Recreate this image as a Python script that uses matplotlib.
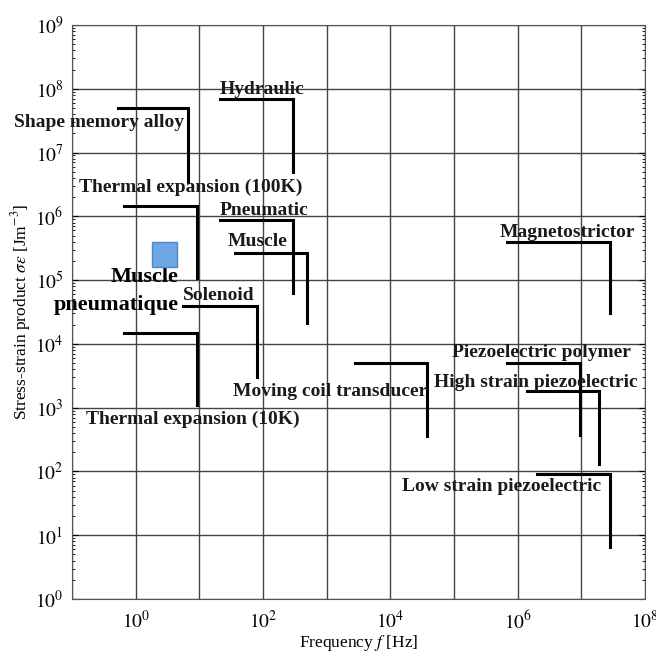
import numpy as np
import matplotlib
matplotlib.use("Agg")
import matplotlib.pyplot as plt

plt.rcParams['font.family'] = ['Liberation Serif', 'DejaVu Serif']
plt.rcParams['mathtext.fontset'] = 'stix'

# actuator name, f_min, f_max, sigma*eps max, sigma*eps min
names = ["Shape memory alloy", "Hydraulic", "Thermal expansion (100K)", "Pneumatic",
         "Muscle", "Solenoid", "Thermal expansion (10K)", "Moving coil transducer",
         "Piezoelectric polymer", "High strain piezoelectric", "Low strain piezoelectric",
         "Magnetostrictor"]
f_min = [0.52, 21, 0.65, 21, 36, 5.6, 0.65, 2.8e3, 6.7e5, 1.4e6, 2.0e6, 6.7e5]
f_max = [6.7, 295, 9.3, 295, 490, 81, 9.3, 3.8e4, 9.6e6, 1.9e7, 2.8e7, 2.8e7]
se_max = [5.0e7, 6.9e7, 1.45e6, 8.7e5, 2.7e5, 3.9e4, 1.5e4, 5.0e3, 5.0e3, 1.8e3, 91, 4.0e5]
se_min = [3.5e6, 4.9e6, 1.07e5, 6.3e4, 2.1e4, 3.0e3, 1.1e3, 360, 370, 130, 6.5, 3.0e4]

# label anchors (left edge, vertical centre)
label_x = [0.0124, 21, 0.129, 21, 28, 5.6, 0.166, 34, 9.3e4, 4.9e4, 1.5e4, 5.2e5]
label_y = [3.0e7, 9.8e7, 2.8e6, 1.25e6, 4.0e5, 5.8e4, 660, 1.8e3, 7.2e3, 2.5e3, 59, 5.6e5]

# pneumatic muscle point
pm_f = 2.8
pm_se = 2.6e5
pm_label = ["Muscle", "pneumatique"]
pm_label_y = [1.12e5, 4.1e4]

fig = plt.figure(figsize=(6.56, 6.52), dpi=100)
ax = fig.add_axes([72 / 656, 53 / 652, 573 / 656, 574 / 652])
ax.set_xscale('log')
ax.set_yscale('log')
ax.set_xlim(1e-1, 1e8)
ax.set_ylim(1e0, 1e9)

ax.set_xticks([10.0 ** k for k in range(-1, 9)], minor=False)
ax.set_xticklabels(['' if k % 2 else '$10^{%d}$' % k for k in range(-1, 9)])
ax.xaxis.set_minor_locator(matplotlib.ticker.NullLocator())
ax.set_yticks([10.0 ** k for k in range(0, 10)])
ax.set_yticklabels(['$10^{%d}$' % k for k in range(0, 10)])
ax.yaxis.set_minor_locator(matplotlib.ticker.LogLocator(subs=np.arange(2, 10)))
ax.yaxis.set_minor_formatter(matplotlib.ticker.NullFormatter())
ax.tick_params(which='both', direction='in', right=True, top=True, labelsize=14, pad=6)
ax.tick_params(axis='x', which='major', length=0, pad=8)
ax.tick_params(axis='y', which='major', length=4)
ax.tick_params(axis='y', which='minor', length=2)
ax.grid(True, which='major', color='#444444', linewidth=1.0)
for s in ax.spines.values():
    s.set_color('#555555')

for i in range(len(names)):
    ax.plot([f_min[i], f_max[i], f_max[i]], [se_max[i], se_max[i], se_min[i]],
            color='black', linewidth=2.2, solid_joinstyle='miter', zorder=3)
    ax.text(label_x[i], label_y[i], names[i], ha='left', va='center',
            fontsize=14, fontweight='bold', color='#1a1a1a', clip_on=False, zorder=4)

ax.plot([pm_f], [pm_se], marker='s', markersize=18, markerfacecolor='#6fa6e4',
        markeredgecolor='#4f86c6', markeredgewidth=1, linestyle='none', zorder=5)
for txt, yy in zip(pm_label, pm_label_y):
    ax.text(4.7, yy, txt, ha='right', va='center',
            fontsize=16, fontweight='bold', color='black', clip_on=False, zorder=4)

ax.set_xlabel('Frequency $f$ [Hz]', fontsize=12.5, labelpad=0)
ax.set_ylabel('Stress-strain product $\\sigma\\epsilon$ [Jm$^{-3}$]', fontsize=12.5, labelpad=2)

fig.savefig('out.png', dpi=100)
